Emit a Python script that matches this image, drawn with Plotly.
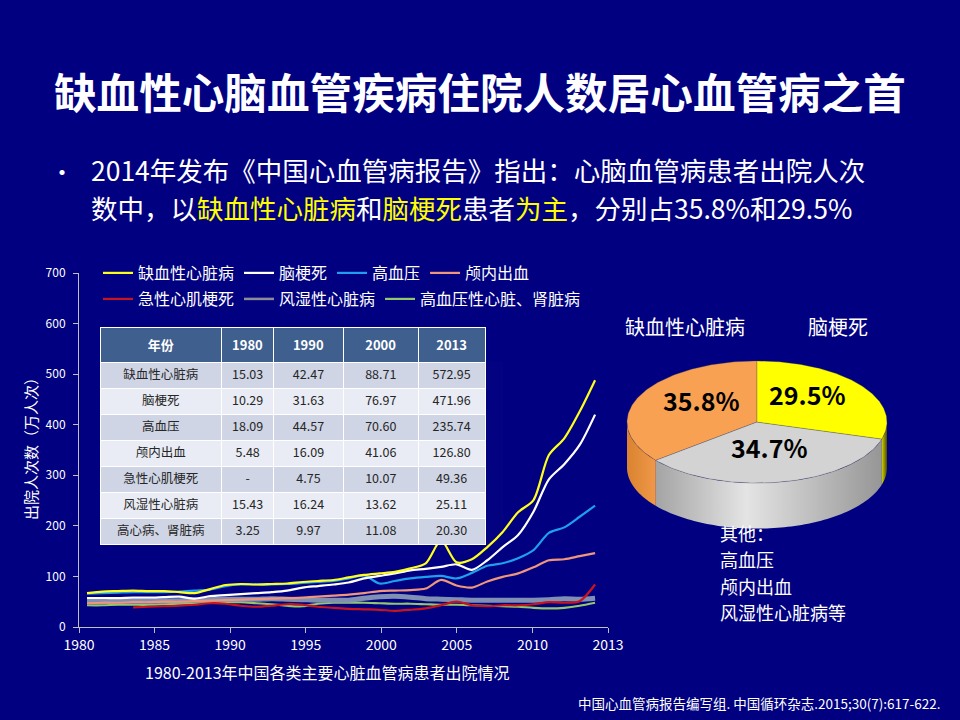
import numpy as np
import plotly.graph_objects as go

W, H = 960, 720
BG = '#000080'
FONT = 'Noto Sans CJK SC'


def px(x):
    return x / W


def py(y):
    return 1 - y / H


# ---- line chart: hospital discharges (万人次) ----
years = list(range(1980, 2014))
x_tick_labels = ['1980', '1985', '1990', '1995', '2000', '2005', '2010', '2013']

ihd = [67, 70, 71, 72, 71, 71, 69, 67, 75, 83, 85, 84, 85, 86, 89, 91, 93, 98, 103, 106,
       109, 116, 126, 171, 128, 134, 158, 188, 227, 251, 340, 373, 426, 488]
infarct = [57, 57, 57, 58, 58, 59, 60, 56, 61, 63, 65, 67, 69, 72, 78, 81, 84, 88, 96, 101,
           106, 112, 115, 119, 124, 113, 132, 158, 182, 228, 292, 322, 360, 420]
hypertension = [66, 67, 68, 69, 69, 69, 70, 72, 74, 81, 84, 84, 84, 85, 87, 89, 91, 96, 102, 86,
                91, 96, 99, 101, 96, 107, 121, 126, 136, 152, 186, 197, 218, 240]
hemorrhage = [47, 48, 48, 49, 49, 50, 50, 51, 52, 53, 54, 55, 56, 57, 58, 60, 62, 64, 67, 71,
              72, 73, 76, 93, 82, 78, 90, 99, 106, 118, 132, 134, 140, 146]
ami = [None, None, None, 39, 40, 41, 42, 44, 47, 46, 42, 40, 42, 45, 44, 40, 38, 36, 35, 34,
       32, 34, 37, 43, 50, 43, 41, 43, 43, 45, 49, 48, 51, 84]
rheumatic = [50, 50, 51, 51, 51, 52, 52, 53, 54, 55, 55, 55, 56, 55, 54, 53, 53, 53, 57, 60,
             61, 59, 56, 55, 54, 53, 53, 53, 53, 53, 54, 56, 55, 57]
hypertensive_hd = [43, 43, 44, 44, 44, 45, 46, 47, 48, 49, 49, 47, 45, 42, 41, 46, 48, 48, 48, 47,
                   46, 46, 45, 44, 44, 43, 42, 41, 40, 38, 37, 38, 42, 48]

# ---- table ----
table_header = ['年份', '1980', '1990', '2000', '2013']
table_rows = ['缺血性心脏病', '脑梗死', '高血压', '颅内出血', '急性心肌梗死', '风湿性心脏病', '高心病、肾脏病']
table_1980 = ['15.03', '10.29', '18.09', '5.48', '-', '15.43', '3.25']
table_1990 = ['42.47', '31.63', '44.57', '16.09', '4.75', '16.24', '9.97']
table_2000 = ['88.71', '76.97', '70.60', '41.06', '10.07', '13.62', '11.08']
table_2013 = ['572.95', '471.96', '235.74', '126.80', '49.36', '25.11', '20.30']

# ---- pie: share of discharges (%) ----
pie_labels = ['缺血性心脏病', '其他', '脑梗死']
pie_shares = [35.8, 34.7, 29.5]
other_lines = ['其他：', '高血压', '颅内出血', '风湿性心脏病等']

fig = go.Figure()

# line traces: drawn bottom -> top, legend order set by legendrank
series = [
    ('高血压性心脏、肾脏病', hypertensive_hd, '#92C86A', 2.2, 'legend2', 7),
    ('风湿性心脏病', rheumatic, '#8090B4', 5, 'legend2', 6),
    ('急性心肌梗死', ami, '#C8141E', 2.2, 'legend2', 5),
    ('颅内出血', hemorrhage, '#F0967A', 2.2, 'legend', 4),
    ('高血压', hypertension, '#1FA0EE', 2.2, 'legend', 3),
    ('脑梗死', infarct, '#FFFFFF', 2.2, 'legend', 2),
    ('缺血性心脏病', ihd, '#FFFF1E', 2.2, 'legend', 1),
]
for name, vals, color, width, leg, rank in series:
    thick = width > 3
    fig.add_trace(go.Scatter(
        x=years, y=vals, name=name, mode='lines',
        line=dict(color=color, width=width, shape='spline', smoothing=0.8),
        legend=leg, legendrank=rank, connectgaps=False, showlegend=not thick,
    ))
    if thick:
        # legend swatch with a normal line weight
        fig.add_trace(go.Scatter(x=[None], y=[None], name=name, mode='lines',
                                 line=dict(color='#8C8C96', width=2.5),
                                 legend=leg, legendrank=rank, hoverinfo='skip'))

# table on top of the line chart
row_fill = ['#CFD5E4' if i % 2 == 0 else '#E9ECF4' for i in range(len(table_rows))]
fig.add_trace(go.Table(
    domain=dict(x=[px(100), px(485)], y=[py(545), py(327)]),
    columnwidth=[122, 52, 70, 75, 67],
    header=dict(values=['<b>%s</b>' % h for h in table_header],
                fill_color='#3F5F8E', line_color='white', align='center', height=25,
                font=dict(color='white', size=13, family=FONT)),
    cells=dict(values=[table_rows, table_1980, table_1990, table_2000, table_2013],
               fill_color=[row_fill] * 5, line_color='white', align='center', height=26,
               font=dict(color='#262626', size=12.5, family=FONT)),
))

# 3D-looking pie built on a hidden axis pair
RX, RY, DEPTH = 1.0, 0.47, 0.35
pie_top = {'缺血性心脏病': '#F9A152', '其他': '#D3D3D3', '脑梗死': '#FFFF00'}
pie_side = {
    '缺血性心脏病': [[0, '#D98330'], [1, '#F09848']],
    '其他': [[0, '#A4A4A4'], [0.4, '#E4E4E4'], [1, '#969696']],
    '脑梗死': [[0, '#D0D000'], [1, '#4C4C00']],
}
total = sum(pie_shares)
bounds = []
start = 90.0
for s in pie_shares:
    end = start + s / total * 360
    bounds.append((start, end))
    start = end

for lab, (a0, a1) in zip(pie_labels, bounds):
    lo, hi = max(a0, 180), min(a1, 360)
    if hi <= lo:
        continue
    t = np.radians(np.linspace(lo, hi, 80))
    xs = np.concatenate([np.cos(t), np.cos(t[::-1])]) * RX
    ys = np.concatenate([np.sin(t) * RY, np.sin(t[::-1]) * RY - DEPTH])
    fig.add_trace(go.Scatter(x=xs, y=ys, xaxis='x2', yaxis='y2', mode='none', fill='toself',
                             fillgradient=dict(type='horizontal', colorscale=pie_side[lab]),
                             showlegend=False, hoverinfo='skip'))

pie_annots = []
for lab, (a0, a1), share in zip(pie_labels, bounds, pie_shares):
    t = np.radians(np.linspace(a0, a1, 120))
    xs = np.concatenate([[0], np.cos(t) * RX, [0]])
    ys = np.concatenate([[0], np.sin(t) * RY, [0]])
    fig.add_trace(go.Scatter(x=xs, y=ys, xaxis='x2', yaxis='y2', mode='lines', fill='toself',
                             fillcolor=pie_top[lab], line=dict(color='rgba(70,70,70,0.5)', width=0.6),
                             showlegend=False, hoverinfo='skip'))
    mid = np.radians((a0 + a1) / 2)
    pie_annots.append(dict(x=0.48 * RX * np.cos(mid), y=0.55 * RY * np.sin(mid), xref='x2', yref='y2',
                           text='<b>%.1f%%</b>' % share, showarrow=False, yshift=8,
                           xanchor='center', yanchor='middle',
                           font=dict(size=25, color='black', family=FONT)))

white = dict(color='white', family=FONT)
annots = [
    dict(x=0.5, y=py(90), text='<b>缺血性心脑血管疾病住院人数居心血管病之首</b>',
         font=dict(size=42.6, **white)),
    dict(x=px(62), y=py(170), text='•', font=dict(size=24, **white)),
    dict(x=px(89), y=py(169), xanchor='left', font=dict(size=26.5, **white),
         text='2014年发布《中国心血管病报告》指出：心脑血管病患者出院人次'),
    dict(x=px(89), y=py(207.6), xanchor='left', font=dict(size=26.5, **white),
         text='数中，以<span style="color:#FFFF00">缺血性心脏病</span>和'
              '<span style="color:#FFFF00">脑梗死</span>患者<span style="color:#FFFF00">为主</span>'
              '，分别占35.8%和29.5%'),
    dict(x=px(30), y=py(445), text='出院人次数（万人次）', textangle=-90,
         font=dict(size=15, **white)),
    dict(x=px(327), y=py(672), text='1980-2013年中国各类主要心脏血管病患者出院情况',
         font=dict(size=16, **white)),
    dict(x=px(685), y=py(327), text='缺血性心脏病', font=dict(size=20, **white)),
    dict(x=px(838), y=py(327), text='脑梗死', font=dict(size=20, **white)),
    dict(x=px(943), y=py(703), xanchor='right',
         text='中国心血管病报告编写组. 中国循环杂志.2015;30(7):617-622.',
         font=dict(size=13.5, **white)),
]
for i, line in enumerate(other_lines):
    annots.append(dict(x=px(718), y=py(533 + 26.3 * i), xanchor='left', text=line,
                       font=dict(size=18, **white)))
for a in annots:
    a.setdefault('xref', 'paper')
    a.setdefault('yref', 'paper')
    a.setdefault('showarrow', False)
    a.setdefault('xanchor', 'center')
    a.setdefault('yanchor', 'middle')

x0 = years[0] - 0.52
x1 = years[-1] + 0.84
axis_style = dict(showline=True, linecolor='#BFBFBF', linewidth=1, ticks='outside', ticklen=5,
                  tickcolor='#BFBFBF', showgrid=False, zeroline=False, automargin=False)

fig.update_layout(
    width=W, height=H,
    margin=dict(l=0, r=0, t=0, b=0, pad=0),
    paper_bgcolor=BG, plot_bgcolor=BG,
    font=dict(family=FONT, color='white'),
    xaxis=dict(domain=[px(79), px(608)], range=[x0, x1],
               tickvals=list(np.linspace(x0, x1, len(x_tick_labels))), ticktext=x_tick_labels,
               tickfont=dict(size=14, color='white'), **axis_style),
    yaxis=dict(domain=[py(627), py(273)], range=[0, 700], dtick=100, ticklabelstandoff=5,
               tickfont=dict(size=12, color='white'), **axis_style),
    xaxis2=dict(domain=[px(617), px(897)], range=[-140 / 130, 140 / 130], visible=False,
                anchor='y2', automargin=False),
    yaxis2=dict(domain=[py(540), py(340)], range=[-118 / 130, 82 / 130], visible=False,
                anchor='x2', automargin=False),
    legend=dict(orientation='h', x=px(98), y=py(273), xanchor='left', yanchor='middle',
                font=dict(size=16, color='white', family=FONT), bgcolor='rgba(0,0,0,0)'),
    legend2=dict(orientation='h', x=px(98), y=py(299), xanchor='left', yanchor='middle',
                 font=dict(size=16, color='white', family=FONT), bgcolor='rgba(0,0,0,0)'),
    annotations=annots + pie_annots,
    showlegend=True,
)

fig.write_html('out.html', config={'displayModeBar': False},
               post_script="document.body.style.margin='0';")
